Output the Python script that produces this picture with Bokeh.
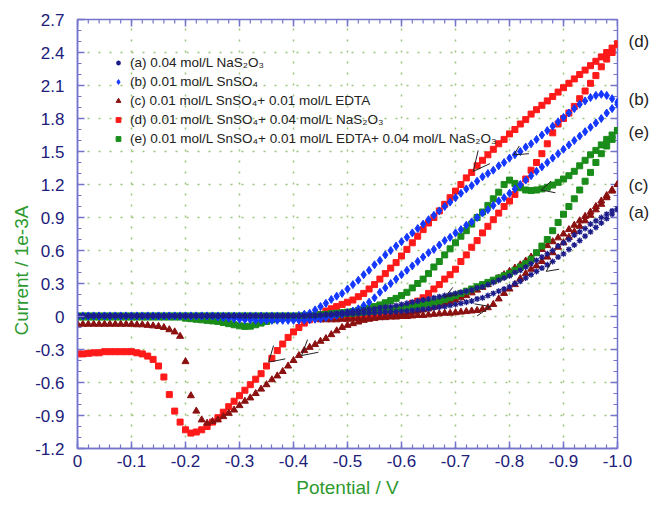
import numpy as np
from bokeh.plotting import figure
from bokeh.models import (Range1d, FixedTicker, CustomJSTickFormatter, LinearAxis,
                          Title, Legend, LegendItem)
from bokeh.embed import file_html
from bokeh.resources import INLINE

# ---------------- data (potential in V, current in 1e-3 A) ----------------
# each branch: potentials sampled every 0.01 V between the given ends
# (d) 0.01 mol/L SnSO4 + 0.04 mol/L NaS2O3
d_fwd_range = (-0.45, -1.00)
d_fwd = [0.00, 0.00, 0.00, 0.005, 0.01, 0.01, 0.01, 0.01, 0.01, 0.015, 0.02, 0.025, 0.03, 0.04,
         0.05, 0.065, 0.09, 0.12, 0.14, 0.17, 0.21, 0.25, 0.29, 0.34, 0.38, 0.43, 0.50, 0.56,
         0.63, 0.69, 0.76, 0.82, 0.88, 0.94, 1.00, 1.05, 1.11, 1.18, 1.25, 1.33, 1.40, 1.48,
         1.57, 1.67, 1.75, 1.80, 1.85, 1.91, 1.98, 2.05, 2.12, 2.19, 2.27, 2.34, 2.40, 2.47]
d_rev_range = (-1.00, 0.00)
d_rev = [2.48, 2.44, 2.40, 2.36, 2.32, 2.28, 2.24, 2.20, 2.16, 2.12, 2.08, 2.04, 2.00, 1.96,
         1.92, 1.88, 1.84, 1.79, 1.75, 1.70, 1.66, 1.61, 1.57, 1.52, 1.47, 1.42, 1.37, 1.31,
         1.26, 1.20, 1.14, 1.08, 1.02, 0.96, 0.90, 0.85, 0.79, 0.73, 0.67, 0.61, 0.55, 0.49,
         0.44, 0.39, 0.34, 0.29, 0.25, 0.21, 0.18, 0.15, 0.13, 0.11, 0.09, 0.07, 0.05, 0.02,
         0.01, -0.03, -0.06, -0.10, -0.14, -0.19, -0.25, -0.31, -0.38, -0.45, -0.52, -0.57,
         -0.62, -0.67, -0.72, -0.77, -0.82, -0.87, -0.92, -0.96, -1.00, -1.03, -1.05, -1.06,
         -1.03, -0.96, -0.86, -0.71, -0.55, -0.45, -0.39, -0.36, -0.34, -0.33, -0.32, -0.32,
         -0.32, -0.32, -0.32, -0.32, -0.33, -0.33, -0.335, -0.34, -0.34]

# (b) 0.01 mol/L SnSO4
b_fwd_range = (0.00, -1.00)
b_fwd = [0.005] * 26 + [
    -0.005, -0.01, -0.015, -0.02, -0.025, -0.03, -0.03, -0.035, -0.035, -0.035, -0.035,
    -0.035, -0.035, -0.035, -0.035, -0.035, -0.035, -0.03, -0.025, -0.02, -0.01, 0.0, 0.01,
    0.02, 0.035, 0.05, 0.07, 0.10, 0.13, 0.17, 0.22, 0.26, 0.30, 0.34, 0.38, 0.42, 0.46,
    0.50, 0.54, 0.58, 0.61, 0.65, 0.69, 0.72, 0.76, 0.79, 0.83, 0.86, 0.90, 0.94, 0.97,
    1.01, 1.05, 1.08, 1.12, 1.16, 1.20, 1.24, 1.28, 1.32, 1.36, 1.40, 1.44, 1.48, 1.52,
    1.56, 1.60, 1.64, 1.68, 1.72, 1.76, 1.80, 1.85, 1.89, 1.93]
b_rev_range = (-1.00, 0.00)
b_rev = [1.95, 1.98, 2.01, 2.02, 2.01, 1.99, 1.96, 1.93, 1.89, 1.85, 1.81, 1.77, 1.73, 1.69,
         1.65, 1.61, 1.57, 1.54, 1.50, 1.47, 1.44, 1.40, 1.37, 1.33, 1.30, 1.27, 1.23, 1.19,
         1.16, 1.12, 1.08, 1.04, 1.00, 0.96, 0.92, 0.88, 0.84, 0.80, 0.76, 0.72, 0.68, 0.64,
         0.60, 0.56, 0.51, 0.47, 0.42, 0.38, 0.33, 0.29, 0.25, 0.21, 0.185, 0.155, 0.12, 0.09,
         0.06, 0.03, 0.02, 0.01] + [0.005] * 41

# (e) 0.01 mol/L SnSO4 + 0.01 mol/L EDTA + 0.04 mol/L NaS2O3
e_fwd_range = (0.00, -1.00)
e_fwd = [0.005] * 41 + [
    0.005, 0.01, 0.01, 0.01, 0.015, 0.015, 0.02, 0.02, 0.025, 0.03, 0.03, 0.035, 0.04,
    0.045, 0.05, 0.055, 0.06, 0.065, 0.07, 0.075, 0.08, 0.09, 0.10, 0.11, 0.12, 0.13, 0.14,
    0.155, 0.17, 0.19, 0.21, 0.23, 0.25, 0.27, 0.29, 0.31, 0.33, 0.35, 0.37, 0.39, 0.42,
    0.45, 0.48, 0.52, 0.58, 0.64, 0.70, 0.78, 0.855, 0.93, 1.00, 1.07, 1.15, 1.23, 1.31,
    1.40, 1.48, 1.55, 1.61, 1.69]
e_rev_range = (-1.00, 0.00)
e_rev = [1.69, 1.65, 1.61, 1.56, 1.51, 1.47, 1.42, 1.37, 1.32, 1.28, 1.25, 1.22, 1.195,
         1.175, 1.16, 1.15, 1.145, 1.15, 1.17, 1.21, 1.24, 1.20, 1.13, 1.07, 1.01, 0.95,
         0.90, 0.84, 0.78, 0.73, 0.67, 0.615, 0.56, 0.50, 0.45, 0.39, 0.34, 0.30, 0.26, 0.22,
         0.19, 0.165, 0.145, 0.125, 0.105, 0.09, 0.075, 0.065, 0.055, 0.045, 0.04, 0.035,
         0.03, 0.025, 0.02, 0.015, 0.01, 0.005, 0.0, -0.003, 0.0, -0.005, -0.01, -0.02,
         -0.03, -0.045, -0.06, -0.075, -0.088, -0.09, -0.085, -0.075, -0.065, -0.055, -0.045,
         -0.04, -0.035, -0.03, -0.025, -0.02, -0.015] + [-0.005] * 20

# (c) 0.01 mol/L SnSO4 + 0.01 mol/L EDTA
c_fwd_range = (-0.45, -1.00)
c_fwd = [-0.03, -0.03, -0.03, -0.03, -0.025, -0.025, -0.02, -0.02, -0.02, -0.015, -0.015,
         -0.01, -0.01, -0.005, -0.005, 0.0, 0.0, 0.005, 0.01, 0.01, 0.015, 0.02, 0.025, 0.03,
         0.03, 0.035, 0.04, 0.045, 0.05, 0.055, 0.065, 0.08, 0.11, 0.16, 0.21, 0.25, 0.29,
         0.345, 0.39, 0.43, 0.46, 0.50, 0.54, 0.58, 0.63, 0.67, 0.72, 0.77, 0.82, 0.87, 0.92,
         0.97, 1.02, 1.08, 1.14, 1.20]
c_rev_range = (-1.00, 0.00)
c_rev = [1.20, 1.15, 1.10, 1.05, 1.00, 0.95, 0.91, 0.87, 0.83, 0.79, 0.75, 0.715, 0.68,
         0.645, 0.61, 0.575, 0.54, 0.505, 0.47, 0.44, 0.41, 0.38, 0.35, 0.32, 0.29, 0.265,
         0.24, 0.215, 0.19, 0.17, 0.15, 0.13, 0.115, 0.10, 0.085, 0.07, 0.06, 0.05, 0.04, 0.03,
         0.02, 0.015, 0.01, 0.0, -0.01, -0.015, -0.025, -0.035, -0.05, -0.065, -0.08, -0.10,
         -0.13, -0.165, -0.20, -0.225, -0.255, -0.28, -0.31, -0.355, -0.40, -0.45, -0.50,
         -0.54, -0.575, -0.62, -0.66, -0.70, -0.74, -0.77, -0.81, -0.85, -0.88, -0.91, -0.94,
         -0.955, -0.97, -0.94, -0.86, -0.72, -0.41, -0.18, -0.14, -0.12, -0.10, -0.09, -0.085,
         -0.08, -0.075, -0.075, -0.07, -0.07, -0.07, -0.07, -0.07, -0.07, -0.07, -0.07, -0.07,
         -0.07, -0.07]

# (a) 0.04 mol/L NaS2O3
a_fwd_range = (0.00, -1.00)
a_fwd = [0.005] * 45 + [
    0.01, 0.012, 0.015, 0.017, 0.02, 0.022, 0.025, 0.027, 0.03, 0.032, 0.035, 0.037, 0.04,
    0.042, 0.045, 0.048, 0.05, 0.055, 0.06, 0.065, 0.07, 0.08, 0.085, 0.09, 0.10, 0.11,
    0.12, 0.13, 0.14, 0.16, 0.17, 0.19, 0.21, 0.23, 0.25, 0.27, 0.30, 0.32, 0.35, 0.38,
    0.41, 0.44, 0.47, 0.50, 0.54, 0.57, 0.61, 0.65, 0.69, 0.73, 0.77, 0.81, 0.85, 0.89,
    0.93, 0.97]
a_rev_range = (-1.00, 0.00)
a_rev = [0.98, 0.96, 0.93, 0.90, 0.87, 0.84, 0.80, 0.77, 0.74, 0.70, 0.67, 0.64, 0.60, 0.57,
         0.54, 0.51, 0.48, 0.45, 0.42, 0.40, 0.37, 0.35, 0.33, 0.31, 0.29, 0.27, 0.26, 0.24,
         0.23, 0.22, 0.21, 0.20, 0.19, 0.18, 0.17, 0.16, 0.15, 0.14, 0.13, 0.12, 0.11, 0.10,
         0.09, 0.085, 0.08, 0.07, 0.065, 0.06, 0.05, 0.045, 0.04, 0.035, 0.03, 0.025, 0.02,
         0.015, 0.01, 0.01] + [0.005] * 43

labels = {
    "a": "(a) 0.04 mol/L NaS\u2082O\u2083",
    "b": "(b) 0.01 mol/L SnSO\u2084",
    "c": "(c) 0.01 mol/L SnSO\u2084+ 0.01 mol/L EDTA",
    "d": "(d) 0.01 mol/L SnSO\u2084+ 0.04 mol/L NaS\u2082O\u2083",
    "e": "(e) 0.01 mol/L SnSO\u2084+ 0.01 mol/L EDTA+ 0.04 mol/L NaS\u2082O\u2083",
}
end_tags = ["(d)", "(b)", "(e)", "(c)", "(a)"]
end_tag_y = [2.50, 1.97, 1.67, 1.19, 0.945]

x_ticks = [0, -0.1, -0.2, -0.3, -0.4, -0.5, -0.6, -0.7, -0.8, -0.9, -1.0]
y_ticks = [-1.2, -0.9, -0.6, -0.3, 0, 0.3, 0.6, 0.9, 1.2, 1.5, 1.8, 2.1, 2.4, 2.7]
x_minor = [round(-0.02 * i, 2) for i in range(51)]
y_minor = [round(-1.2 + 0.1 * i, 2) for i in range(40)]

# direction arrows: (tip, arm1, arm2) in data coordinates
arrows = [
    ((-0.733, 1.32), (-0.742, 1.51), (-0.764, 1.39)),
    ((-0.808, 1.47), (-0.818, 1.55), (-0.836, 1.48)),
    ((-0.859, 1.15), (-0.877, 1.23), (-0.885, 1.125)),
    ((-0.868, 0.41), (-0.878, 0.50), (-0.892, 0.43)),
    ((-0.681, 0.18), (-0.695, 0.265), (-0.703, 0.20)),
    ((-0.765, 0.09), (-0.735, 0.115), (-0.740, 0.005)),
    ((-0.354, -0.415), (-0.363, -0.264), (-0.385, -0.385)),
    ((-0.415, -0.355), (-0.426, -0.21), (-0.446, -0.325)),
]

# ---------------- styles ----------------
AX = "#7474cc"
TICK_TXT = "#20207a"
GREEN_TXT = "#2f9a2f"
FONT = "Liberation Sans"


def branch(rng, vals):
    return list(np.linspace(rng[0], rng[1], len(vals))), list(vals)


def curve(*parts):
    xs, ys = [], []
    for rng, vals in parts:
        bx, by = branch(rng, vals)
        xs += bx
        ys += by
    return xs, ys


p = figure(width=652, height=506, x_range=Range1d(0, -1.0), y_range=Range1d(-1.2, 2.7),
           output_backend="svg", toolbar_location=None,
           min_border_left=77, min_border_right=30, min_border_top=19, min_border_bottom=58,
           background_fill_color="white", border_fill_color="white")
p.outline_line_color = AX
p.outline_line_width = 1.5

xt = FixedTicker(ticks=x_ticks, minor_ticks=x_minor)
yt = FixedTicker(ticks=y_ticks, minor_ticks=y_minor)
fmt = CustomJSTickFormatter(code="return Math.abs(tick) < 1e-9 ? '0' : tick.toFixed(1);")

for ax in (p.below[0], p.left[0]):
    ax.axis_line_color = AX
    ax.axis_line_width = 1.5
    ax.major_tick_line_color = AX
    ax.minor_tick_line_color = AX
    ax.major_tick_line_width = 1.5
    ax.minor_tick_line_width = 1.2
    ax.major_tick_in = 7
    ax.major_tick_out = 0
    ax.minor_tick_in = 4
    ax.minor_tick_out = 0
    ax.major_label_text_color = TICK_TXT
    ax.major_label_text_font = FONT
    ax.major_label_text_font_size = "17px"
    ax.formatter = fmt

p.below[0].ticker = xt
p.left[0].ticker = yt
p.below[0].major_label_standoff = 6
p.left[0].major_label_standoff = 13

p.below[0].axis_label = "Potential / V"
p.below[0].axis_label_text_color = GREEN_TXT
p.below[0].axis_label_text_font = FONT
p.below[0].axis_label_text_font_size = "19px"
p.below[0].axis_label_text_font_style = "normal"
p.below[0].axis_label_standoff = 7

ytitle = Title(text="Current / 1e-3A", align="left", offset=113, standoff=2,
               text_color=GREEN_TXT, text_font=FONT, text_font_size="19px",
               text_font_style="normal")
p.add_layout(ytitle, "left")

# right-hand curve tags as a label-only axis
tag_fmt = CustomJSTickFormatter(args=dict(vals=end_tag_y, tags=end_tags), code="""
for (let i = 0; i < vals.length; i++) { if (Math.abs(tick - vals[i]) < 1e-6) return tags[i]; }
return '';""")
tag_axis = LinearAxis(ticker=FixedTicker(ticks=end_tag_y), formatter=tag_fmt,
                      axis_line_color=None, major_tick_line_color=None,
                      minor_tick_line_color=None, major_label_standoff=5,
                      major_label_text_font=FONT, major_label_text_font_size="17px",
                      major_label_text_color="#222222")
p.add_layout(tag_axis, "right")

p.xgrid.ticker = xt
p.ygrid.ticker = yt
for g in (p.xgrid, p.ygrid):
    g.grid_line_color = "#9cc47c"
    g.grid_line_width = 1.5
    g.grid_line_dash = "2 9"

# inward tick marks on the top and right frame edges (half of each dash is clipped)
top = y_ticks[-1]
right = x_ticks[-1]
p.scatter(x_minor, [top] * len(x_minor), marker="dash", angle=np.pi / 2, size=8,
          line_color=AX, line_width=1.2)
p.scatter(x_ticks, [top] * len(x_ticks), marker="dash", angle=np.pi / 2, size=14,
          line_color=AX, line_width=1.5)
p.scatter([right] * len(y_minor), y_minor, marker="dash", size=8,
          line_color=AX, line_width=1.2)
p.scatter([right] * len(y_ticks), y_ticks, marker="dash", size=14,
          line_color=AX, line_width=1.5)

# ---------------- curves ----------------
dx, dy = curve((d_fwd_range, d_fwd), (d_rev_range, d_rev))
cx, cy = curve((c_fwd_range, c_fwd), (c_rev_range, c_rev))
ex, ey = curve((e_fwd_range, e_fwd), (e_rev_range, e_rev))
bx, by = curve((b_fwd_range, b_fwd), (b_rev_range, b_rev))
axx, ayy = curve((a_fwd_range, a_fwd), (a_rev_range, a_rev))

r_d = p.scatter(dx, dy, marker="square", size=6, fill_color="#ff1a1a", line_color="#ff1a1a")
r_c = p.scatter(cx, cy, marker="triangle", size=7, fill_color="#8b1010", line_color="#8b1010")
r_e = p.scatter(ex, ey, marker="square", size=6, fill_color="#1a8c1a", line_color="#1a8c1a")
r_b = p.scatter(bx, by, marker="diamond", size=8, fill_color="#1438ff", line_color="#1438ff")
r_a = p.scatter(axx, ayy, marker="asterisk", size=6, line_color="#1c1c8a", line_width=1.3)

# arrows
p.multi_line(xs=[[a1[0], t[0], a2[0]] for t, a1, a2 in arrows],
             ys=[[a1[1], t[1], a2[1]] for t, a1, a2 in arrows],
             line_color="#222222", line_width=1)

legend = Legend(items=[LegendItem(label=labels["a"], renderers=[r_a]),
                       LegendItem(label=labels["b"], renderers=[r_b]),
                       LegendItem(label=labels["c"], renderers=[r_c]),
                       LegendItem(label=labels["d"], renderers=[r_d]),
                       LegendItem(label=labels["e"], renderers=[r_e])],
                location=(35, 300), padding=0, margin=0, spacing=0,
                label_height=19, glyph_height=19, glyph_width=12, label_standoff=6,
                border_line_color=None, background_fill_alpha=0,
                label_text_font=FONT, label_text_font_size="13.5px",
                label_text_color="#222222")
p.add_layout(legend, "center")

open("out.html", "w").write(file_html(p, INLINE))
